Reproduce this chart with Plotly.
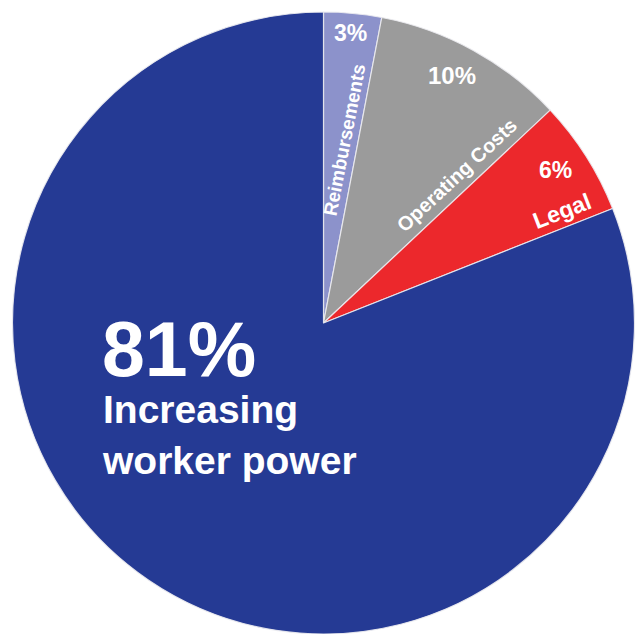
import plotly.graph_objects as go

# ---- data ----
categories = ["Reimbursements", "Operating Costs", "Legal", "Increasing worker power"]
shares = [3, 10, 6, 81]
pct_labels = ["3%", "10%", "6%", "81%"]
colors = ["#8C92CB", "#9B9B9B", "#EC282C", "#253A94"]

W, H = 636, 634
FONT = "Arial, Liberation Sans, sans-serif"

# pie placement in page pixels: centre (324, 325), radius 313 (clamped to the canvas)
cx, cy, R = 324, 325, 313

fig = go.Figure(
    go.Pie(
        labels=categories,
        values=shares,
        sort=False,
        direction="clockwise",
        rotation=0,
        marker=dict(colors=colors, line=dict(color="rgba(235,235,240,0.9)", width=1.2)),
        textinfo="none",
        hoverinfo="label+percent",
        showlegend=False,
        domain=dict(x=[max(0, (cx - R) / W), min(1, (cx + R) / W)],
                    y=[max(0, 1 - (cy + R) / H), min(1, 1 - (cy - R) / H)]),
    )
)


def px(x, y):
    return x / W, 1 - y / H


# label placements (page pixel positions), styles
label_specs = [
    # text, x, y, size, angle
    (pct_labels[0], 350, 33, 23, 0),
    (categories[0], 345, 140, 19, -79),
    (pct_labels[1], 452, 75, 24, 0),
    (categories[1], 457, 175, 20, -43),
    (pct_labels[2], 555, 170, 23, 0),
    (categories[2], 562, 211, 23, -21),
    (pct_labels[3], 179, 349, 77, 0),
]

annotations = []
for text, x, y, size, ang in label_specs:
    ax, ay = px(x, y)
    annotations.append(
        dict(
            text=text, x=ax, y=ay, xref="paper", yref="paper",
            xanchor="center", yanchor="middle", showarrow=False, textangle=ang,
            font=dict(family=FONT, size=size, color="white", weight="bold"),
        )
    )

bx, by = px(100, 435)
annotations.append(
    dict(
        text="Increasing<br>worker power", x=bx, y=by, xref="paper", yref="paper",
        xanchor="left", yanchor="middle", align="left", showarrow=False,
        font=dict(family=FONT, size=39, color="white", weight="bold"),
    )
)

fig.update_layout(
    width=W, height=H,
    margin=dict(l=0, r=0, t=0, b=0),
    paper_bgcolor="white",
    plot_bgcolor="white",
    annotations=annotations,
)

fig.write_html(
    "out.html",
    config={"displayModeBar": False},
    post_script="document.body.style.margin='0';document.body.style.overflow='hidden';",
)
